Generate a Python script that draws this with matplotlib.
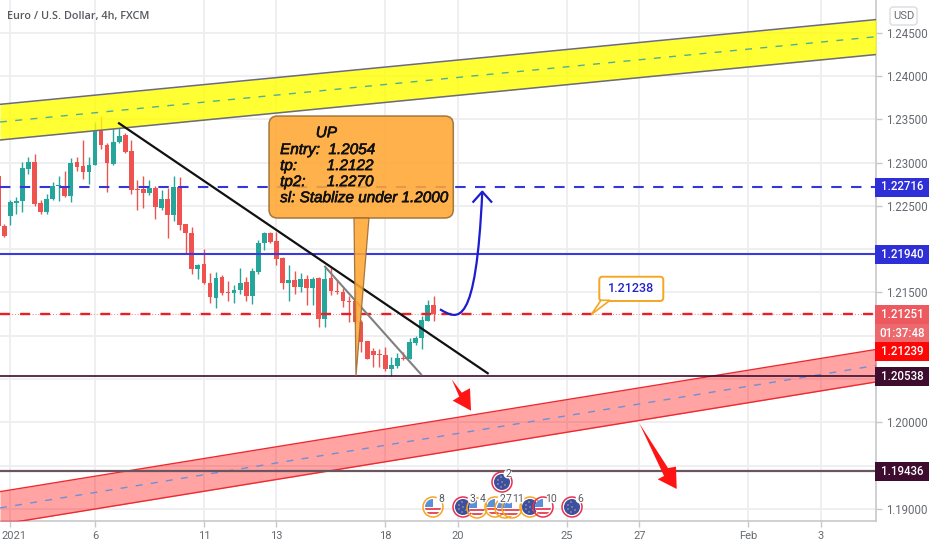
import matplotlib
matplotlib.use('Agg')
import matplotlib.pyplot as plt
import matplotlib.patheffects as pe
import numpy as np
from matplotlib.patches import Circle, FancyBboxPatch, PathPatch, Polygon, Rectangle
from matplotlib.path import Path
from matplotlib.transforms import ScaledTranslation

plt.rcParams['font.family'] = ['Roboto', 'DejaVu Sans']

### Data: EUR/USD 4h candles, first bar sits just off the left edge
opens = [1.22840,1.22263,1.22386,1.22529,1.22552,1.22929,1.23002,1.22533,1.22428,1.22575,1.22725,1.22713,
         1.22613,1.23002,1.22964,1.22894,1.22968,1.23379,1.23206,1.22987,1.23233,1.23314,1.23137,1.22690,
         1.22698,1.22652,1.22710,1.22479,1.22579,1.22394,1.22713,1.22290,1.22186,1.21773,1.21827,1.21615,
         1.21442,1.21677,1.21504,1.21492,1.21531,1.21619,1.21461,1.21735,1.22070,1.22185,1.22089,1.21896,
         1.21608,1.21646,1.21561,1.21658,1.21550,1.21665,1.21192,1.21665,1.21523,1.21511,1.21403,1.21396,
         1.21165,1.20941,1.20826,1.20791,1.20780,1.20622,1.20653,1.20749,1.20737,1.20915,1.20972,1.21176,1.21361]
highs = [1.22848,1.22294,1.22571,1.22602,1.23006,1.23064,1.23102,1.22571,1.22640,1.22779,1.22848,1.22906,
         1.23052,1.23064,1.23264,1.23064,1.23464,1.23534,1.23226,1.23399,1.23399,1.23341,1.23264,1.22802,
         1.22841,1.22802,1.22725,1.22687,1.22706,1.22848,1.22833,1.22294,1.22255,1.21831,1.22000,1.21723,
         1.21742,1.21704,1.21627,1.21581,1.21788,1.21677,1.21781,1.22108,1.22204,1.22204,1.22204,1.21908,
         1.21819,1.21754,1.21723,1.21704,1.21677,1.21677,1.21800,1.21781,1.21646,1.21550,1.21461,1.21531,
         1.21184,1.20945,1.20857,1.20845,1.20868,1.20753,1.20799,1.20811,1.20972,1.20992,1.21230,1.21415,1.21454]
lows = [1.22244,1.22140,1.22282,1.22409,1.22425,1.22867,1.22502,1.22409,1.22409,1.22571,1.22552,1.22602,
        1.22540,1.22898,1.22814,1.22756,1.22968,1.23160,1.22656,1.22968,1.23226,1.23110,1.22640,1.22448,
        1.22471,1.22629,1.22352,1.22455,1.22132,1.22328,1.22225,1.21943,1.21709,1.21661,1.21596,1.21384,
        1.21319,1.21473,1.21396,1.21384,1.21484,1.21396,1.21365,1.21711,1.21992,1.22077,1.21815,1.21542,
        1.21400,1.21480,1.21500,1.21350,1.21357,1.21107,1.21107,1.21469,1.21477,1.21338,1.21165,1.21153,
        1.20818,1.20730,1.20645,1.20634,1.20591,1.20537,1.20626,1.20722,1.20734,1.20899,1.20853,1.21172,1.21176]
closes = [1.22271,1.22147,1.22540,1.22559,1.22937,1.23002,1.22525,1.22432,1.22583,1.22733,1.22740,1.22613,
          1.22994,1.22952,1.22894,1.22975,1.23379,1.23199,1.22991,1.23241,1.23310,1.23125,1.22687,1.22683,
          1.22652,1.22706,1.22482,1.22579,1.22398,1.22721,1.22282,1.22190,1.21774,1.21823,1.21608,1.21446,
          1.21673,1.21492,1.21492,1.21534,1.21615,1.21454,1.21746,1.22070,1.22185,1.22085,1.21889,1.21608,
          1.21650,1.21561,1.21661,1.21550,1.21661,1.21192,1.21661,1.21515,1.21504,1.21396,1.21388,1.21165,
          1.20934,1.20737,1.20780,1.20780,1.20622,1.20664,1.20745,1.20737,1.20930,1.20976,1.21184,1.21357,1.21246]
bars = np.arange(-1, len(opens) - 1)

price_ticks = [1.19, 1.195, 1.20, 1.205, 1.21, 1.215, 1.22, 1.225, 1.23, 1.235, 1.24, 1.245]
# the ones sitting behind a price tag get no label
price_labels = ['1.19000', '', '1.20000', '', '', '1.21500', '', '1.22500', '1.23000', '1.23500', '1.24000', '1.24500']
date_ticks = [1, 15, 33, 45, 63, 75, 93, 105, 123, 135]
date_labels = ['2021', '6', '11', '13', '18', '20', '25', '27', 'Feb', '3']

### Drawing tools, in (bar, price)
x_ends = [-0.71, 144.13]
yellow_upper = [1.23673, 1.24652]
yellow_mid = [1.23469, 1.24454]
yellow_lower = [1.23261, 1.24248]
red_upper = [1.19200, 1.20842]
red_mid = [1.19012, 1.20657]
red_lower = [1.18821, 1.20467]
black_x, black_y = [18.97, 79.93], [1.23454, 1.20567]
grey_x, grey_y = [53.03, 68.9], [1.21798, 1.20555]
level_tp2, level_res, level_now, level_entry, level_low = 1.22716, 1.21940, 1.21251, 1.20538, 1.19436
arrow1 = [(73.98,1.20498),(75.63,1.20343),(77.0,1.20394),(77.17,1.20135),(74.14,1.20251),(75.23,1.20297)]
arrow2 = [(104.99,1.19990),(109.74,1.19473),(111.06,1.19488),(111.18,1.19231),(108.03,1.19343),(109.08,1.19381)]
curve = [(72.04,1.21306),(75.02,1.21182),(77.99,1.21067),(79.03,1.22664)]
curve_head = [(77.55,1.22548),(79.03,1.22664),(80.52,1.22548)]
callout_lines = ['UP', 'Entry:  1.2054', 'tp:       1.2122', 'tp2:     1.2270', 'sl: Stablize under 1.2000']

### Price tags and events, in figure pixels
tag_text = ['1.22716', '1.21940', '1.21251', '01:37:48', '1.21239', '1.20538', '1.19436']
tag_y = [187, 254, 314, 333.5, 351.5, 376, 471.5]
tag_col = ['#2f2fd8', '#2f2fd8', '#ec5a5f', '#ec6a6e', '#ff0505', '#3d0c2e', '#3d0c2e']
event_x = [433, 463, 477, 495, 505, 512, 530, 543, 572, 502]
event_y = [507, 507, 508, 507, 508, 508, 507, 507, 507, 482]
event_kind = ['us', 'eu', 'us', 'us', 'us', 'us', 'eu', 'us', 'eu', 'eu']
event_ring = ['#f5a623', '#e8304f', '#f5a623', '#f5a623', '#f5a623', '#f5a623', '#f5a623', '#e8304f', '#e8304f', '#e8304f']
event_num = ['8', '3', '4', '2', '7', '1', '1', '10', '6', '2']
event_num_x = [441, 472, 483, 502, 509, 515, 520, 551, 580, 508]
event_num_y = [499, 499, 499, 499, 499, 499, 499, 499, 499, 474]

W, H = 932, 550
fig = plt.figure(figsize=(W / 100, H / 100), dpi=100)
ax = fig.add_axes([0, 29 / H, 876 / W, 521 / H])
ax.set_xlim(*x_ends)
ax.set_ylim(1.18861, 1.24878)

### Axes
ax.grid(True, color='#eeeef0', lw=1.3)
ax.set_axisbelow(True)
ax.yaxis.tick_right()
ax.set_yticks(price_ticks, price_labels)
ax.set_xticks(date_ticks, date_labels)
ax.tick_params(axis='both', colors='#c8c8cc', labelcolor='#666a70', labelsize=8.3, length=4, width=1, pad=3)
ax.tick_params(axis='x', labelsize=8)
first = ax.xaxis.get_major_ticks()[0].label1
first.set_transform(first.get_transform() + ScaledTranslation(2.5 / 72, 0, fig.dpi_scale_trans))
for s in ['top', 'left']:
    ax.spines[s].set_visible(False)
for s in ['right', 'bottom']:
    ax.spines[s].set_color('#c8c8cc')
    ax.spines[s].set_linewidth(1.2)

### Candles
o, h, l, c = map(np.array, (opens, highs, lows, closes))
cols = np.where(c >= o, '#26a69a', '#ef5350')
ax.vlines(bars, l, h, colors=cols, lw=1.0, zorder=3)
ax.bar(bars, np.maximum(np.abs(c - o), 0.00005), bottom=np.minimum(o, c), width=0.78, color=cols, zorder=3)

### Channels
ax.fill_between(x_ends, yellow_lower, yellow_upper, color='#ffff00', alpha=0.8, lw=0, zorder=4)
ax.plot(x_ends, yellow_upper, color='#6a6a80', lw=1.1, zorder=5)
ax.plot(x_ends, yellow_lower, color='#6a6a80', lw=1.1, zorder=5)
ax.plot(x_ends, yellow_mid, color='#4fae9c', lw=1.0, ls=(0, (5, 6)), zorder=5)
ax.fill_between(x_ends, red_lower, red_upper, color='#ff0000', alpha=0.36, lw=0, zorder=4)
ax.plot(x_ends, red_upper, color='#ee2a30', lw=1.0, zorder=5)
ax.plot(x_ends, red_lower, color='#ee2a30', lw=1.0, zorder=5)
ax.plot(x_ends, red_mid, color='#6f8fd8', lw=1.0, ls=(0, (5, 6)), zorder=5)

### Horizontal levels
ax.axhline(level_tp2, color='#3535dd', lw=1.5, ls=(0, (5, 4.5)), zorder=5)
ax.axhline(level_res, color='#3a3adf', lw=1.5, zorder=5)
ax.axhline(level_now, color='#f08080', lw=0.7, ls=(0, (1, 2)), zorder=5)
ax.axhline(level_now, color='#ee1c25', lw=1.7, ls=(0, (4.2, 4.3)), zorder=5)
ax.axhline(level_entry, color='#3d0c2e', lw=1.2, zorder=5)
ax.axhline(level_low, color='#6a5560', lw=1.6, zorder=5)

### Trend lines and arrows
ax.plot(black_x, black_y, color='#111111', lw=1.6, zorder=6)
ax.plot(grey_x, grey_y, color='#808080', lw=1.5, zorder=6)
ax.add_patch(Polygon(arrow1, closed=True, color='#ff1414', lw=0, zorder=6))
ax.add_patch(Polygon(arrow2, closed=True, color='#ff1414', lw=0, zorder=6))
ax.add_patch(PathPatch(Path(curve, [Path.MOVETO, Path.CURVE4, Path.CURVE4, Path.CURVE4]),
                       fc='none', ec='#1c1cd0', lw=1.6, zorder=6))
ax.plot(*zip(*curve_head), color='#1c1cd0', lw=1.6, zorder=6)

### Orange callout
box = FancyBboxPatch((43.77, 1.22360), 30.47, 0.01178, boxstyle='round,pad=0,rounding_size=1.4',
                     mutation_aspect=0.0007, fc='#ffa733', ec='#9a6a30', lw=1.1, alpha=0.88, zorder=7)
ax.add_patch(box)
ax.add_patch(Polygon([(57.82, 1.2236), (60.3, 1.2236), (58.15, 1.20536)], closed=True,
                     fc='#ffa733', ec='#9a6a30', lw=0.9, alpha=0.88, zorder=7))
for line, yy, xx in zip(callout_lines, [1.23340, 1.23145, 1.22960, 1.22775, 1.22590],
                        [51.5, 45.6, 45.6, 45.6, 45.6]):
    ax.text(xx, yy, line, family=['Liberation Sans'], style='italic', fontsize=11, color='#111111',
            va='center', ha='left', zorder=8,
            path_effects=[pe.withStroke(linewidth=0.45, foreground='#111111')])

### Small price note
ax.add_patch(FancyBboxPatch((98.38, 1.21402), 10.58, 0.0028, boxstyle='round,pad=0,rounding_size=0.5',
                            mutation_aspect=0.0007, fc='white', ec='#f5a623', lw=1.4, zorder=7))
ax.add_patch(Polygon([(98.66, 1.21410), (100.15, 1.21410), (97.06, 1.21246)], closed=True,
                     fc='white', ec='#f5a623', lw=1.2, zorder=7))
ax.text(103.67, 1.21542, '1.21238', color='#2222cc', fontsize=9, fontweight='medium',
        ha='center', va='center', zorder=8)

### Overlay in pixels for the tags, title and event icons
pix = fig.add_axes([0, 0, 1, 1], facecolor='none')
pix.set_xlim(0, W)
pix.set_ylim(H, 0)
pix.axis('off')
pix.text(7, 17, 'Euro / U.S. Dollar, 4h, FXCM', family=['Open Sans'], fontsize=7.8, fontweight='semibold',
         color='#555a60', va='center')
pix.add_patch(FancyBboxPatch((890, 7), 27, 18, boxstyle='round,pad=0,rounding_size=3',
                             fc='white', ec='#dcdcdf', lw=1))
pix.text(903.5, 16, 'USD', fontsize=8, color='#666a70', ha='center', va='center')

for t, yy, col in zip(tag_text, tag_y, tag_col):
    pix.add_patch(Rectangle((875, yy - 9.5), 53.5, 19, fc=col, ec='none'))
    pix.text(902, yy, t, fontsize=8.3, color='white', fontweight='medium', ha='center', va='center')

for xx, yy, kind, ring in zip(event_x, event_y, event_kind, event_ring):
    pix.add_patch(Circle((xx, yy), 10, fc='none', ec=ring, lw=1.1))
    clip = Circle((xx, yy), 8, fc='white', ec='none')
    pix.add_patch(clip)
    if kind == 'us':
        for dy in (1, 5):
            r = pix.add_patch(Rectangle((xx - 8, yy + dy), 16, 2.2, fc='#e8505b', ec='none'))
            r.set_clip_path(clip)
        r = pix.add_patch(Rectangle((xx - 8, yy - 8), 8, 8, fc='#5b8fd8', ec='none'))
        r.set_clip_path(clip)
    else:
        clip.set_facecolor('#3f4fa0')
        for dx, dy in [(-4, -2), (-1, -5), (-4, 2), (0, 0), (-1, 5), (3, 3)]:
            pix.add_patch(Circle((xx + dx, yy + dy), 0.7, fc='#c9c98a', ec='none'))
for xx, yy, n in zip(event_num_x, event_num_y, event_num):
    # number sits on a white dot that bites into the icon
    pix.add_patch(Circle((xx, yy), 4.5, fc='white', ec='none'))
for xx, yy, n in zip(event_num_x, event_num_y, event_num):
    pix.text(xx, yy, n, fontsize=7.5, color='#555a60', ha='center', va='center')

fig.savefig('out.png', dpi=100)
